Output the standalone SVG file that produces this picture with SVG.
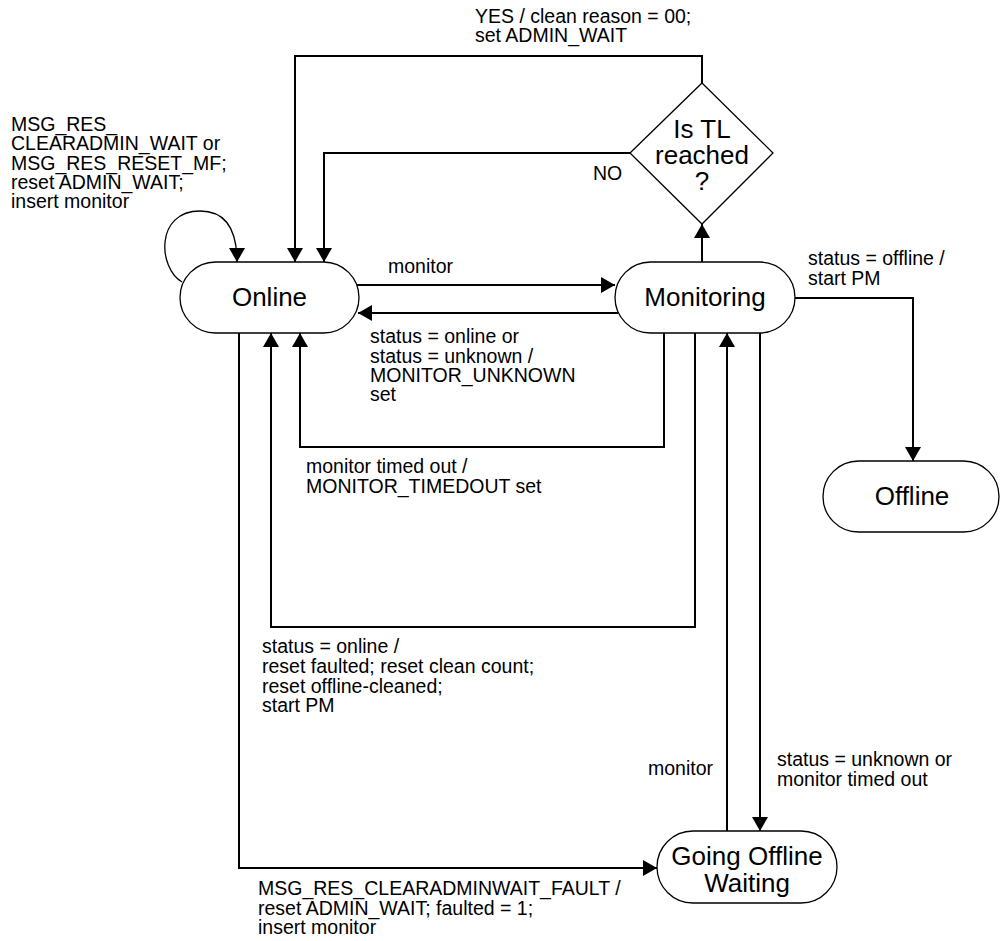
<svg xmlns="http://www.w3.org/2000/svg" width="1001" height="941" viewBox="0 0 1001 941">
<style>
.node{fill:#fff;stroke:#000;stroke-width:1.3}
.nt{font-family:"Liberation Sans",Arial,sans-serif;font-size:26px;fill:#000;text-anchor:middle}
.lb{font-family:"Liberation Sans",Arial,sans-serif;font-size:19.5px;fill:#000}
.edge{fill:none;stroke:#000;stroke-width:2}
</style>
<defs>
<marker id="ah" viewBox="0 0 14 16" refX="14" refY="8" markerWidth="14" markerHeight="16" orient="auto" markerUnits="userSpaceOnUse">
<path d="M0,0 L14,8 L0,16 z" fill="#000"/>
</marker>
</defs>
<rect width="1001" height="941" fill="#fff"/>
<g id="connectors">
<path class="edge" d="M702,83 V56 H295 V262" marker-end="url(#ah)"/>
<path class="edge" d="M630,153 H324 V262" marker-end="url(#ah)"/>
<path class="edge" style="stroke-width:1.3" d="M182,282 C158,268 155,211 200,211 C228,211 237,232 237,262" marker-end="url(#ah)"/>
<path class="edge" d="M357,285 H615" marker-end="url(#ah)"/>
<path class="edge" d="M618,313 H358" marker-end="url(#ah)"/>
<path class="edge" d="M664,333 V447 H300 V333" marker-end="url(#ah)"/>
<path class="edge" d="M695,333 V627 H271 V333" marker-end="url(#ah)"/>
<path class="edge" d="M239,333 V868 H657" marker-end="url(#ah)"/>
<path class="edge" d="M727,831 V333" marker-end="url(#ah)"/>
<path class="edge" d="M760,333 V831" marker-end="url(#ah)"/>
<path class="edge" d="M702,262 V224" marker-end="url(#ah)"/>
<path class="edge" d="M795,298 H913 V461" marker-end="url(#ah)"/>
</g>
<g id="labels">
<text class="lb" x="475" y="23">YES / clean reason = 00;</text>
<text class="lb" x="475" y="42">set ADMIN_WAIT</text>
<text class="lb" x="11" y="131">MSG_RES_</text>
<text class="lb" x="11" y="150">CLEARADMIN_WAIT or</text>
<text class="lb" x="11" y="170">MSG_RES_RESET_MF;</text>
<text class="lb" x="11" y="189">reset ADMIN_WAIT;</text>
<text class="lb" x="11" y="208">insert monitor</text>
<text class="lb" x="593" y="180">NO</text>
<text class="lb" x="388" y="273">monitor</text>
<text class="lb" x="808" y="265">status = offline /</text>
<text class="lb" x="808" y="285">start PM</text>
<text class="lb" x="370" y="343">status = online or</text>
<text class="lb" x="370" y="363">status = unknown /</text>
<text class="lb" x="370" y="382">MONITOR_UNKNOWN</text>
<text class="lb" x="370" y="401">set</text>
<text class="lb" x="306" y="473">monitor timed out /</text>
<text class="lb" x="306" y="493">MONITOR_TIMEDOUT set</text>
<text class="lb" x="262" y="653">status = online /</text>
<text class="lb" x="262" y="673">reset faulted; reset clean count;</text>
<text class="lb" x="262" y="693">reset offline-cleaned;</text>
<text class="lb" x="262" y="712">start PM</text>
<text class="lb" x="648" y="775">monitor</text>
<text class="lb" x="777" y="766">status = unknown or</text>
<text class="lb" x="777" y="786">monitor timed out</text>
<text class="lb" x="258" y="895">MSG_RES_CLEARADMINWAIT_FAULT /</text>
<text class="lb" x="258" y="915">reset ADMIN_WAIT; faulted = 1;</text>
<text class="lb" x="258" y="934">insert monitor</text>
</g>
<g id="online">
<rect class="node" x="180" y="262" width="179" height="71" rx="35.5" ry="35.5"/>
<text class="nt" x="269.5" y="306">Online</text>
</g>
<g id="monitoring">
<rect class="node" x="615" y="262" width="180" height="71" rx="35.5" ry="35.5"/>
<text class="nt" x="705" y="306">Monitoring</text>
</g>
<g id="decision">
<path class="node" d="M702,83 L773,153 L702,224 L630,153 z"/>
<text class="nt" x="702" y="138">Is TL</text>
<text class="nt" x="702" y="164">reached</text>
<text class="nt" x="702" y="190">?</text>
</g>
<g id="offline">
<rect class="node" x="823" y="461" width="176" height="71" rx="35.5" ry="35.5"/>
<text class="nt" x="912" y="505">Offline</text>
</g>
<g id="goingOfflineWaiting">
<rect class="node" x="657" y="831" width="180" height="72" rx="36" ry="36"/>
<text class="nt" x="747" y="865">Going Offline</text>
<text class="nt" x="747" y="892">Waiting</text>
</g>
</svg>
